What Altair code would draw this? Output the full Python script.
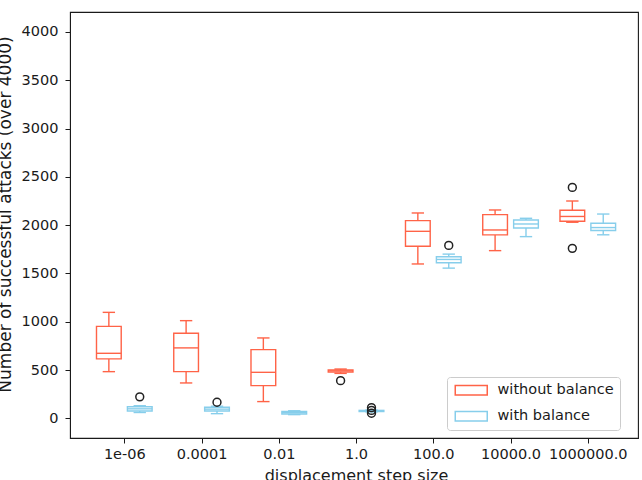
import json

import altair as alt
import pandas as pd

# Step sizes tried for the displacement attack
step_labels = ["1e-06", "0.0001", "0.01", "1.0", "100.0", "10000.0", "1000000.0"]
series_names = ["without balance", "with balance"]
series_colors = ["#FF6347", "#87CEEB"]

# Box statistics per step size: lower whisker, q1, median, q3, upper whisker
nobal_lo = [483, 366, 173, 465, 1598, 1736, 2030]
nobal_q1 = [615, 483, 338, 478, 1781, 1899, 2040]
nobal_med = [673, 729, 476, 490, 1936, 1950, 2090]
nobal_q3 = [952, 880, 711, 500, 2047, 2109, 2155]
nobal_hi = [1097, 1011, 832, 510, 2126, 2157, 2250]

bal_lo = [60, 48, 38, 66, 1555, 1881, 1900]
bal_q1 = [75, 75, 45, 70, 1610, 1971, 1945]
bal_med = [98, 95, 58, 76, 1645, 2012, 1975]
bal_q3 = [120, 115, 70, 82, 1672, 2054, 2020]
bal_hi = [130, 125, 78, 86, 1700, 2071, 2115]

# Fliers: step index and value
nobal_flier_step = [3, 6, 6]
nobal_flier_val = [390, 2391, 1760]
bal_flier_step = [0, 1, 3, 3, 3, 4]
bal_flier_val = [222, 166, 110, 82, 52, 1790]

OFFSET = 0.2      # shift of each series from the step tick
BOX_HALF = 0.16   # half box width, in step units
CAP_HALF = 0.08   # half whisker-cap width

stats = {
    series_names[0]: (nobal_lo, nobal_q1, nobal_med, nobal_q3, nobal_hi),
    series_names[1]: (bal_lo, bal_q1, bal_med, bal_q3, bal_hi),
}
rows = []
for k, name in enumerate(series_names):
    lo, q1, med, q3, hi = stats[name]
    shift = -OFFSET if k == 0 else OFFSET
    for i in range(len(step_labels)):
        rows.append({"series": name, "pos": i + shift, "lo": lo[i], "q1": q1[i],
                     "med": med[i], "q3": q3[i], "hi": hi[i]})
boxes = pd.DataFrame(rows)

flier_rows = []
for k, (steps, vals) in enumerate([(nobal_flier_step, nobal_flier_val),
                                   (bal_flier_step, bal_flier_val)]):
    shift = -OFFSET if k == 0 else OFFSET
    for s, v in zip(steps, vals):
        flier_rows.append({"series": series_names[k], "pos": s + shift, "val": v})
fliers = pd.DataFrame(flier_rows)

FONT = "DejaVu Sans"
INK = "#1a1a1a"

x_scale = alt.Scale(domain=[-0.703, 6.65], nice=False, zero=False)
y_scale = alt.Scale(domain=[-204, 4207], nice=False, zero=False)

x_axis = alt.Axis(
    values=list(range(len(step_labels))),
    labelExpr=f"{json.dumps(step_labels)}[datum.value]",
    title="displacement step size",
    grid=False, tickSize=5, labelPadding=4, labelFontSize=14.5,
    labelFont=FONT, labelColor=INK, tickColor=INK,
    titleFont=FONT, titleFontSize=16, titleFontWeight="normal", titleColor=INK,
    titleX=286, titleY=42, titleBaseline="alphabetic", titleAlign="center",
    domainColor=INK, labelFlush=False,
)
y_axis = alt.Axis(
    values=list(range(0, 4001, 500)), format="d",
    title="Number of successful attacks (over 4000)",
    grid=False, tickSize=5, labelPadding=7, labelFontSize=14.5,
    labelFont=FONT, labelColor=INK, tickColor=INK,
    titleFont=FONT, titleFontSize=17, titleFontWeight="normal", titleColor=INK,
    titleX=-60, titleY=202, titleAngle=-90, titleBaseline="alphabetic",
    titleAlign="center", domainColor=INK,
)

legend = alt.Legend(
    title=None, orient="none", legendX=377, legendY=365,
    symbolType="M-1,-0.95H5.4V0.95H-1Z", symbolSize=100,
    symbolStrokeWidth=1.5, symbolFillColor="white", symbolOpacity=1,
    labelFont=FONT, labelFontSize=14.5, labelColor=INK, labelOffset=30,
    rowPadding=10, padding=6, fillColor="white", strokeColor="#cccccc",
    cornerRadius=3,
)
stroke = alt.Stroke("series:N", scale=alt.Scale(domain=series_names, range=series_colors),
                    legend=legend)

base = alt.Chart(boxes).transform_calculate(
    boxL=f"datum.pos - {BOX_HALF}", boxR=f"datum.pos + {BOX_HALF}",
    capL=f"datum.pos - {CAP_HALF}", capR=f"datum.pos + {CAP_HALF}",
)

box = base.mark_rect(filled=False, strokeWidth=1.4).encode(
    x=alt.X("boxL:Q", scale=x_scale, axis=x_axis), x2="boxR:Q",
    y=alt.Y("q1:Q", scale=y_scale, axis=y_axis), y2="q3:Q",
    stroke=stroke,
)
median = base.mark_rule(strokeWidth=1.4).encode(
    x="boxL:Q", x2="boxR:Q", y="med:Q", stroke=stroke)
whisk_lo = base.mark_rule(strokeWidth=1.4).encode(
    x="pos:Q", y="lo:Q", y2="q1:Q", stroke=stroke)
whisk_hi = base.mark_rule(strokeWidth=1.4).encode(
    x="pos:Q", y="q3:Q", y2="hi:Q", stroke=stroke)
cap_lo = base.mark_rule(strokeWidth=1.4).encode(
    x="capL:Q", x2="capR:Q", y="lo:Q", stroke=stroke)
cap_hi = base.mark_rule(strokeWidth=1.4).encode(
    x="capL:Q", x2="capR:Q", y="hi:Q", stroke=stroke)
flier = alt.Chart(fliers).mark_point(
    shape="circle", filled=False, size=62, strokeWidth=1.5, color="#222", opacity=1
).encode(x="pos:Q", y="val:Q")

chart = alt.layer(box, median, whisk_lo, whisk_hi, cap_lo, cap_hi, flier).properties(
    width=568, height=426,
    autosize=alt.AutoSizeParams(type="none"),
    padding={"left": 70, "top": 12, "right": 4, "bottom": 42},
    background="white",
).configure_view(stroke=INK, strokeWidth=1.1)

chart.save("out.html", embed_options={"renderer": "svg", "actions": False})
